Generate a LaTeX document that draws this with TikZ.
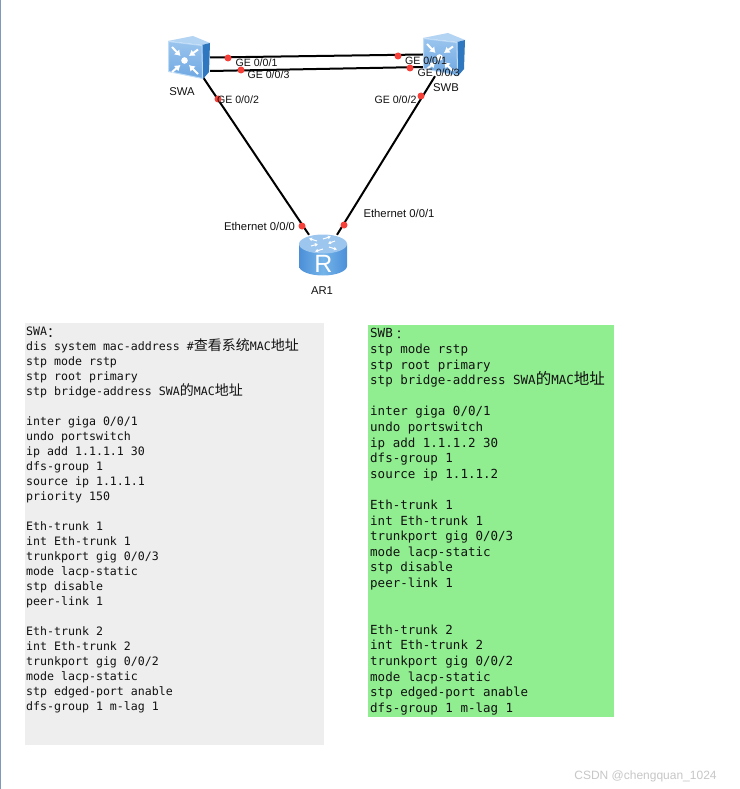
\documentclass[tikz,border=0pt]{standalone}
\usepackage{fontspec}
\usetikzlibrary{arrows.meta}
\setmainfont{Liberation Sans}
\newfontfamily\codefont{DejaVu Sans Mono}
\newfontfamily\zhfont{Noto Sans CJK SC}
\newfontfamily\zhtc{Noto Sans CJK TC}
\newcommand{\zhA}[1]{{\zhfont\fontsize{14}{15}\selectfont #1}}
\newcommand{\zhB}[1]{{\zhfont\fontsize{15.5}{15}\selectfont #1}}
\newcommand{\codeAfont}{\codefont\fontsize{11.6}{15}\selectfont\lineskiplimit -100pt\relax}
\newcommand{\codeBfont}{\codefont\fontsize{12.5}{15.6}\selectfont\lineskiplimit -100pt\relax}
\definecolor{swfronta}{HTML}{9AC4EE}
\definecolor{swfrontb}{HTML}{6FA8E2}
\definecolor{swedge}{HTML}{BFDCF7}
\definecolor{swtop}{HTML}{B4D4F3}
\definecolor{swside}{HTML}{2F77BE}
\definecolor{rtop}{HTML}{9CC6EE}
\definecolor{rbodyA}{HTML}{4C8FD8}
\definecolor{rbodyB}{HTML}{74B4EA}
\definecolor{portdot}{HTML}{F5413A}
\definecolor{leftrule}{HTML}{7F98BC}
\definecolor{panelA}{HTML}{EEEEEE}
\definecolor{panelB}{HTML}{90EE90}
\definecolor{inkc}{HTML}{111111}
\tikzset{
  x=1pt,y=-1pt,
  devicebox/.style={minimum width=42pt,minimum height=43pt,inner sep=0pt},
  devlabel/.style={font=\fontsize{11.3}{13}\selectfont,inner sep=0pt,text=inkc},
  portlabel/.style={font=\fontsize{11.3}{13}\selectfont,inner sep=0pt,text=inkc},
  gelabel/.style={font=\fontsize{10.6}{13}\selectfont,inner sep=0pt,text=inkc},
  link/.style={line width=2pt,black},
  portdotstyle/.style={circle,fill=portdot,minimum size=7pt,inner sep=0pt},
  codeA/.style={anchor=north west,align=left,inner sep=0pt,text=inkc,font=\codeAfont},
  codeB/.style={anchor=north west,align=left,inner sep=0pt,text=inkc,font=\codeBfont},
  whitearrow/.style={white,line width=2pt,-{Latex[length=5.5pt,width=7.5pt]}},
  whitesmall/.style={white,line width=1pt,-{Latex[length=3pt,width=4pt]}},
}
\newcommand{\switchicon}[2]{%
 \begin{scope}[shift={(#1,#2)}]
  \fill[swtop] (168,41) -- (193,36) -- (210,43) -- (202,45) -- cycle;
  \fill[swside] (202,45) -- (210,43) -- (209,72) -- (203,79) -- cycle;
  \shade[top color=swfronta,bottom color=swfrontb,draw=swedge,line width=1pt] (168.5,41.5) -- (202,45.5) -- (202.5,78.5) -- (168.5,71.5) -- cycle;
  \fill[white] (184.5,60.5) circle (3.3);
  \draw[whitearrow] (172,47) -- (180.5,56);
  \draw[whitearrow] (198,49.5) -- (189,56);
  \draw[whitearrow] (172,72) -- (180.5,65);
  \draw[whitearrow] (198,74) -- (189,65);
 \end{scope}}
\begin{document}
\begin{tikzpicture}
\useasboundingbox (0,0) rectangle (739,789);
\fill[white] (0,0) rectangle (739,789);
\fill[leftrule] (0,0) rectangle (1.2,789);
\fill[panelA] (25,323) rectangle (324,745);
\fill[panelB] (368,325) rectangle (614,717);

% devices
\node[devicebox] (swa) at (189,57.5) {};
\node[devicebox] (swb) at (444,54.5) {};
\node[devicebox,minimum width=48pt,minimum height=40pt] (ar1) at (323,255) {};

% connectors
\draw[link] (swa.east) -- (swb.west);
\draw[link] ([yshift=-13.5pt]swa.east) -- ([yshift=-12.5pt]swb.west);
\draw[link] ([xshift=14pt,yshift=2pt]swa.south) -- ([xshift=-14pt]ar1.north);
\draw[link] ([xshift=-9pt]swb.south) -- ([xshift=14pt]ar1.north);

% device pictures
\switchicon{0}{0}
\switchicon{255}{-3}
\shade[left color=rbodyA,right color=rbodyA,middle color=rbodyB]
  (299,244) -- (299,266) arc[start angle=180,end angle=0,x radius=24,y radius=9.5] -- (347,244) -- cycle;
\fill[rtop] (323,244) ellipse[x radius=24,y radius=9.5];
\draw[whitesmall] (317,241) -- (309,238.5);
\draw[whitesmall] (323,239) -- (331,236.5);
\draw[whitesmall] (329,247) -- (337,249.5);
\draw[whitesmall] (323,249) -- (315,251.5);
\draw[whitesmall] (311,246) -- (318,244);
\draw[whitesmall] (335,241) -- (328,243.5);
\node[white,inner sep=0pt,font=\fontsize{25}{25}\selectfont] (rlabel) at (323.5,264) {R};

% port dots
\node[portdotstyle] (d1) at (228,58) {};
\node[portdotstyle] (d2) at (398,56) {};
\node[portdotstyle] (d3) at (241,70) {};
\node[portdotstyle] (d4) at (410,68) {};
\node[portdotstyle] (d5) at (218,99) {};
\node[portdotstyle] (d6) at (421,96) {};
\node[portdotstyle] (d7) at (302,226) {};
\node[portdotstyle] (d8) at (344,225) {};

% labels
\node[gelabel] (l1) at (256.5,63) {GE 0/0/1};
\node[gelabel] (l2) at (268.5,75) {GE 0/0/3};
\node[gelabel] (l3) at (426,61) {GE 0/0/1};
\node[gelabel] (l4) at (438.5,73) {GE 0/0/3};
\node[gelabel] (l5) at (238,100) {GE 0/0/2};
\node[gelabel] (l6) at (395.5,100) {GE 0/0/2};
\node[portlabel] (l7) at (259.5,226) {Ethernet 0/0/0};
\node[portlabel] (l8) at (399,213) {Ethernet 0/0/1};
\node[devlabel] (n1) at (182,92) {SWA};
\node[devlabel] (n2) at (446,88) {SWB};
\node[devlabel] (n3) at (322,291) {AR1};

% code panels
\node[codeA] (codea) at (26,326.7) {SWA\raisebox{-1.5pt}{\zhA{：}}\\
dis system mac-address \#\zhA{查看系统}MAC\zhA{地址}\\
stp mode rstp\\
stp root primary\\
stp bridge-address SWA\zhA{的}MAC\zhA{地址}\\
~\\
inter giga 0/0/1\\
undo portswitch\\
ip add 1.1.1.1 30\\
dfs-group 1\\
source ip 1.1.1.1\\
priority 150\\
~\\
Eth-trunk 1\\
int Eth-trunk 1\\
trunkport gig 0/0/3\\
mode lacp-static\\
stp disable\\
peer-link 1\\
~\\
Eth-trunk 2\\
int Eth-trunk 2\\
trunkport gig 0/0/2\\
mode lacp-static\\
stp edged-port anable\\
dfs-group 1 m-lag 1};

\node[codeB] (codeb) at (370,328.5) {SWB\raisebox{-1.5pt}{\zhtc ：}\\
stp mode rstp\\
stp root primary\\
stp bridge-address SWA\zhB{的}MAC\zhB{地址}\\
~\\
inter giga 0/0/1\\
undo portswitch\\
ip add 1.1.1.2 30\\
dfs-group 1\\
source ip 1.1.1.2\\
~\\
Eth-trunk 1\\
int Eth-trunk 1\\
trunkport gig 0/0/3\\
mode lacp-static\\
stp disable\\
peer-link 1\\
~\\
~\\
Eth-trunk 2\\
int Eth-trunk 2\\
trunkport gig 0/0/2\\
mode lacp-static\\
stp edged-port anable\\
dfs-group 1 m-lag 1};

\node[inner sep=0pt,text=black!22,font=\fontsize{12}{14}\selectfont] (wm) at (645.5,776) {CSDN @chengquan\_1024};
\end{tikzpicture}
\end{document}
